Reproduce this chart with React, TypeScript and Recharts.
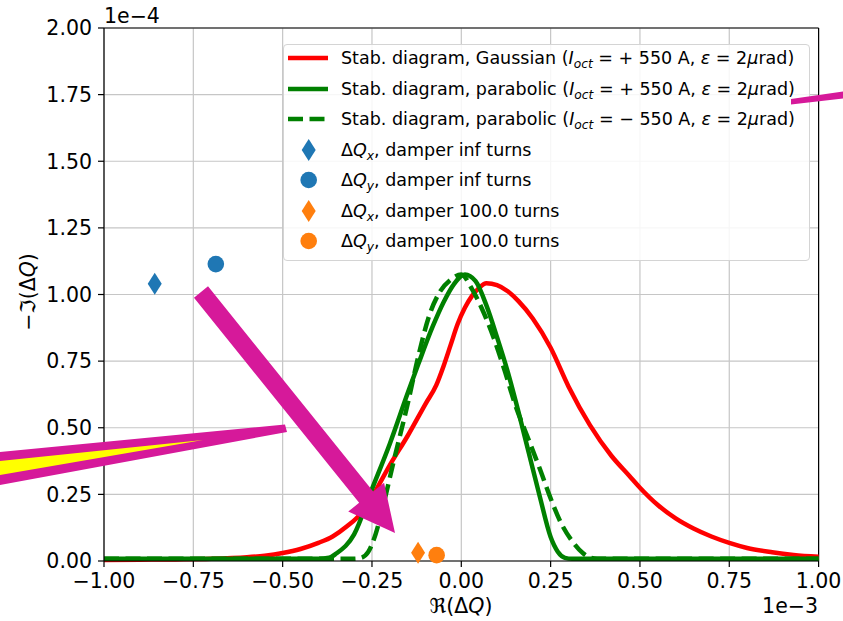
import React from 'react'
import {
  ComposedChart,
  Line,
  Scatter,
  XAxis,
  YAxis,
  CartesianGrid,
  Legend,
  ReferenceLine
} from 'recharts'

// x in units of 1e-3, y in units of 1e-4 (offset text shown on the axes)
const gaussX = [-1.0, -0.9, -0.8, -0.7, -0.6, -0.55, -0.5, -0.45, -0.4, -0.36, -0.32, -0.28, -0.25, -0.2, -0.15, -0.1, -0.07, -0.05, -0.03, -0.01, 0.01, 0.03, 0.05, 0.07, 0.1, 0.13, 0.16, 0.2, 0.25, 0.3, 0.36, 0.42, 0.47, 0.5, 0.55, 0.6, 0.65, 0.7, 0.75, 0.8, 0.87, 0.93, 1.0]
const gaussY = [0.004, 0.005, 0.006, 0.008, 0.014, 0.02, 0.03, 0.045, 0.068, 0.092, 0.13, 0.18, 0.24, 0.36, 0.47, 0.59, 0.66, 0.73, 0.81, 0.89, 0.95, 0.995, 1.025, 1.042, 1.035, 1.012, 0.975, 0.91, 0.8, 0.655, 0.51, 0.395, 0.32, 0.275, 0.21, 0.16, 0.122, 0.092, 0.068, 0.049, 0.033, 0.023, 0.016]

const paraPlusX = [-1.0, -0.4, -0.37, -0.35, -0.3, -0.25, -0.2, -0.15, -0.12, -0.08, -0.05, -0.02, 0.01, 0.04, 0.07, 0.1, 0.13, 0.16, 0.19, 0.22, 0.25, 0.27, 0.29, 0.31, 1.0]
const paraPlusY = [0.008, 0.008, 0.012, 0.028, 0.10, 0.27, 0.44, 0.63, 0.74, 0.88, 0.97, 1.04, 1.075, 1.05, 0.96, 0.84, 0.71, 0.56, 0.40, 0.24, 0.09, 0.035, 0.012, 0.008, 0.008]

const paraMinusX = [-1.0, -0.3, -0.28, -0.26, -0.24, -0.22, -0.19, -0.15, -0.12, -0.09, -0.06, -0.03, 0.0, 0.03, 0.06, 0.09, 0.12, 0.15, 0.19, 0.22, 0.25, 0.28, 0.31, 0.34, 0.36, 0.38, 1.0]
const paraMinusY = [0.008, 0.008, 0.012, 0.035, 0.10, 0.20, 0.37, 0.59, 0.77, 0.92, 1.01, 1.055, 1.075, 1.02, 0.94, 0.84, 0.72, 0.59, 0.45, 0.345, 0.235, 0.14, 0.075, 0.03, 0.013, 0.008, 0.008]

// dQx inf, dQy inf, dQx 100 turns, dQy 100 turns
const pointX = [-0.858, -0.687, -0.121, -0.069]
const pointY = [1.04, 1.114, 0.031, 0.022]

const xTicks = [-1, -0.75, -0.5, -0.25, 0, 0.25, 0.5, 0.75, 1]
const yTicks = [0, 0.25, 0.5, 0.75, 1, 1.25, 1.5, 1.75, 2]

const RED = '#ff0000'
const GREEN = '#008000'
const BLUE = '#1f77b4'
const ORANGE = '#ff7f0e'
const MAGENTA = '#d6199a'
const FONT = '"DejaVu Sans", sans-serif'
const LW = 4.5

const toPoints = (xs: number[], ys: number[]) => xs.map((x, i) => ({ x, y: ys[i] }))

const gaussData = toPoints(gaussX, gaussY)
const paraPlusData = toPoints(paraPlusX, paraPlusY)
const paraMinusData = toPoints(paraMinusX, paraMinusY)

const fmt = (v: number) => v.toFixed(2).replace('-', '\u2212')

const Diamond = (props: any) => {
  const { cx, cy, fill } = props
  return <polygon points={`${cx},${cy - 11} ${cx + 7},${cy} ${cx},${cy + 11} ${cx - 7},${cy}`} fill={fill} />
}
const Dot = (props: any) => {
  const { cx, cy, fill } = props
  return <circle cx={cx} cy={cy} r={8.3} fill={fill} />
}

const subStyle = { fontSize: '0.7em', fontStyle: 'italic' as const, verticalAlign: '-0.3em', lineHeight: 0 }

const stabLabel = (kind: string, sign: string) => (
  <>
    Stab. diagram, {kind} (<i>I</i>
    <span style={subStyle}>oct</span> = {sign} 550 A, <i>ε</i> = 2<i>μ</i>rad)
  </>
)
const dqLabel = (axis: string, turns: string) => (
  <>
    Δ<i>Q</i>
    <span style={subStyle}>{axis}</span>, damper {turns} turns
  </>
)

const legendRows = [
  { icon: 'line', color: RED, label: stabLabel('Gaussian', '+') },
  { icon: 'line', color: GREEN, label: stabLabel('parabolic', '+') },
  { icon: 'dash', color: GREEN, label: stabLabel('parabolic', '\u2212') },
  { icon: 'diamond', color: BLUE, label: dqLabel('x', 'inf') },
  { icon: 'circle', color: BLUE, label: dqLabel('y', 'inf') },
  { icon: 'diamond', color: ORANGE, label: dqLabel('x', '100.0') },
  { icon: 'circle', color: ORANGE, label: dqLabel('y', '100.0') }
]

const LegendBox = () => (
  <div
    style={{
      position: 'relative',
      width: 527,
      height: 217,
      boxSizing: 'border-box',
      border: '1px solid #d4d4d4',
      borderRadius: 4,
      background: 'rgba(255,255,255,0.85)',
      fontFamily: FONT,
      fontSize: 17.5,
      color: '#000'
    }}
  >
    {legendRows.map((row, i) => {
      const cy = 13 + i * 30.5
      return (
        <div key={i} style={{ position: 'absolute', left: 0, top: cy - 15, height: 30, width: '100%' }}>
          <svg width={50} height={30} style={{ position: 'absolute', left: 0, top: 0 }}>
            {row.icon === 'line' && <line x1={4} x2={44} y1={15} y2={15} stroke={row.color} strokeWidth={LW} />}
            {row.icon === 'dash' && (
              <line x1={4} x2={44} y1={15} y2={15} stroke={row.color} strokeWidth={LW} strokeDasharray="15 6.5" />
            )}
            {row.icon === 'diamond' && <Diamond cx={24.7} cy={15} fill={row.color} />}
            {row.icon === 'circle' && <Dot cx={24.7} cy={15} fill={row.color} />}
          </svg>
          <div style={{ position: 'absolute', left: 57, top: 0, lineHeight: '30px', whiteSpace: 'nowrap' }}>{row.label}</div>
        </div>
      )
    })}
  </div>
)

const arrowPoints = (sx: number, sy: number, tx: number, ty: number, sh: number, hh: number, hl: number) => {
  const dx = tx - sx
  const dy = ty - sy
  const len = Math.hypot(dx, dy)
  const ux = dx / len
  const uy = dy / len
  const px = -uy
  const py = ux
  const bx = tx - ux * hl
  const by = ty - uy * hl
  const pts = [
    [sx + px * sh, sy + py * sh],
    [bx + px * sh, by + py * sh],
    [bx + px * hh, by + py * hh],
    [tx, ty],
    [bx - px * hh, by - py * hh],
    [bx - px * sh, by - py * sh],
    [sx - px * sh, sy - py * sh]
  ]
  return pts.map(p => p.join(',')).join(' ')
}

export default function App() {
  return (
    <div style={{ position: 'absolute', left: 0, top: 0, width: 843, height: 621, background: '#fff', fontFamily: FONT }}>
      <ComposedChart width={843} height={621} margin={{ top: 28, right: 24.4, left: 0, bottom: 0 }}>
        <CartesianGrid stroke="#c6c6c6" strokeWidth={1.2} />
        <XAxis
          dataKey="x"
          type="number"
          domain={[-1, 1]}
          ticks={xTicks}
          tickFormatter={fmt}
          height={60}
          tickSize={6}
          tickMargin={6}
          axisLine={{ stroke: '#000', strokeWidth: 1.2 }}
          tickLine={{ stroke: '#000', strokeWidth: 1.2 }}
          tick={{ fill: '#000', fontSize: 20.5, fontFamily: FONT }}
        />
        <YAxis
          dataKey="y"
          type="number"
          domain={[0, 2]}
          ticks={yTicks}
          tickFormatter={fmt}
          width={104}
          tickSize={6}
          tickMargin={6}
          axisLine={{ stroke: '#000', strokeWidth: 1.2 }}
          tickLine={{ stroke: '#000', strokeWidth: 1.2 }}
          tick={{ fill: '#000', fontSize: 20.5, fontFamily: FONT }}
        />
        <ReferenceLine y={2} stroke="#000" strokeWidth={1.2} />
        <ReferenceLine x={1} stroke="#000" strokeWidth={1.2} />
        <Line data={gaussData} dataKey="y" type="monotone" stroke={RED} strokeWidth={LW} dot={false} isAnimationActive={false} />
        <Line data={paraPlusData} dataKey="y" type="monotone" stroke={GREEN} strokeWidth={LW} dot={false} isAnimationActive={false} />
        <Line
          data={paraMinusData}
          dataKey="y"
          type="monotone"
          stroke={GREEN}
          strokeWidth={LW}
          strokeDasharray="15 6.5"
          dot={false}
          isAnimationActive={false}
        />
        <Scatter data={[{ x: pointX[0], y: pointY[0] }]} dataKey="y" fill={BLUE} shape={Diamond} isAnimationActive={false} />
        <Scatter data={[{ x: pointX[1], y: pointY[1] }]} dataKey="y" fill={BLUE} shape={Dot} isAnimationActive={false} />
        <Scatter data={[{ x: pointX[2], y: pointY[2] }]} dataKey="y" fill={ORANGE} shape={Diamond} isAnimationActive={false} />
        <Scatter data={[{ x: pointX[3], y: pointY[3] }]} dataKey="y" fill={ORANGE} shape={Dot} isAnimationActive={false} />
        <Legend
          verticalAlign="middle"
          align="center"
          layout="horizontal"
          content={() => <LegendBox />}
          wrapperStyle={{ left: 283, top: 44, width: 527, height: 217 }}
        />
      </ComposedChart>
      <svg width={843} height={621} style={{ position: 'absolute', left: 0, top: 0, pointerEvents: 'none' }}>
        <text x={104} y={23} fontSize={20.5} fontFamily={FONT} fill="#000">1e{'\u2212'}4</text>
        <text x={818} y={613} fontSize={20.5} fontFamily={FONT} fill="#000" textAnchor="end">1e{'\u2212'}3</text>
        <text x={461} y={613} fontSize={20.5} fontFamily={FONT} fill="#000" textAnchor="middle">ℜ(Δ<tspan fontStyle="italic">Q</tspan>)</text>
        <text x={35} y={292} fontSize={20.5} fontFamily={FONT} fill="#000" textAnchor="middle" transform="rotate(-90 35 292)">
          {'\u2212'}ℑ(Δ<tspan fontStyle="italic">Q</tspan>)
        </text>
        <polygon points={arrowPoints(201, 292, 395, 533, 9, 23, 46)} fill={MAGENTA} />
        <polygon points="0,452 285,424.5 287,432 0,485" fill={MAGENTA} />
        <polygon points="0,461 203,440 0,475" fill="#ffff00" />
        <polygon points="791,99 843,91.5 843,98.5 791,104.5" fill={MAGENTA} />
      </svg>
    </div>
  )
}
